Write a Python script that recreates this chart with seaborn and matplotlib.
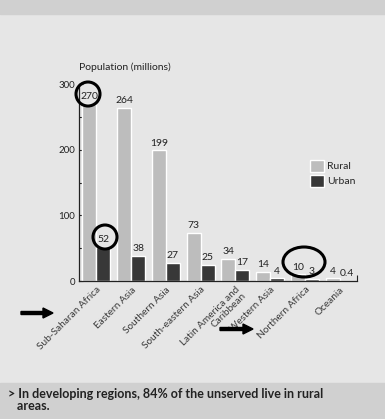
import matplotlib
matplotlib.use("Agg")
import matplotlib.pyplot as plt
from matplotlib.patches import Rectangle, Ellipse, FancyArrow
import seaborn as sns
import pandas as pd

regions = ["Sub-Saharan Africa", "Eastern Asia", "Southern Asia", "South-eastern Asia",
           "Latin America and\nCaribbean", "Western Asia", "Northern Africa", "Oceania"]
rural = [270, 264, 199, 73, 34, 14, 10, 4]
urban = [52, 38, 27, 25, 17, 4, 3, 0.4]
y_ticks = [0, 100, 200, 300]

df = pd.DataFrame({
    "region": regions * 2,
    "population": rural + urban,
    "area": ["Rural"] * len(regions) + ["Urban"] * len(regions),
})

sns.set_theme(style="white")
plt.rcParams["font.family"] = ["Lato", "DejaVu Sans"]

W, H = 385, 419
fig = plt.figure(figsize=(W / 100, H / 100), dpi=100)
fig.patch.set_facecolor("#e6e6e6")
# header and caption bands
fig.patches.append(Rectangle((0, 1 - 14 / H), 1, 14 / H, transform=fig.transFigure,
                             color="#d0d0d0", zorder=0))
fig.patches.append(Rectangle((0, 0), 1, 36 / H, transform=fig.transFigure,
                             color="#d0d0d0", zorder=0))

ax = fig.add_axes([79 / W, 1 - 281 / H, (357 - 79) / W, (281 - 84) / H])
ax.set_facecolor("none")

palette = {"Rural": "#bdbdbd", "Urban": "#383838"}
sns.barplot(data=df, x="region", y="population", hue="area", palette=palette,
            width=0.8, saturation=1, ax=ax, legend=True)

for cont, vals in zip(ax.containers, [rural, urban]):
    ax.bar_label(cont, labels=[f"{v:g}" for v in vals], padding=2,
                 fontsize=7.5, color="#222222")

ax.set_xlim(-0.5, len(regions) - 0.5)
ax.set_ylim(0, 300)
ax.set_yticks(y_ticks)
ax.set_yticks([50, 150, 250], minor=True)
ax.tick_params(axis="y", which="both", direction="in", length=3, width=0.8,
               labelsize=7, colors="#222222", left=True, pad=3)
ax.tick_params(axis="x", which="major", length=0, labelsize=7.2, pad=3,
               labelcolor="#3a3a3a")
ax.set_xticks([len(regions) - 0.5], minor=True)
ax.tick_params(axis="x", which="minor", direction="in", length=4, width=0.8,
               bottom=True, colors="#222222")
for lab in ax.get_xticklabels():
    lab.set_rotation(45)
    lab.set_ha("right")
    lab.set_va("top")
    lab.set_rotation_mode("anchor")
    lab.set_linespacing(0.9)

ax.set_xlabel("")
ax.set_ylabel("")
for s in ["top", "right"]:
    ax.spines[s].set_visible(False)
for s in ["left", "bottom"]:
    ax.spines[s].set_color("#222222")
    ax.spines[s].set_linewidth(0.9)

ax.text(0, 1.06, "Population (millions)", transform=ax.transAxes,
        fontsize=7.5, color="#222222", ha="left", va="bottom")

leg = ax.legend(loc="upper left", bbox_to_anchor=((306 - 79) / (357 - 79), (281 - 156) / (281 - 84)),
                frameon=False, fontsize=7.5, handlelength=1.3, handleheight=1.3,
                handletextpad=0.3, labelspacing=0.35, borderaxespad=0)

# highlight marks
def circle(xp, yp, wp, hp):
    fig.patches.append(Ellipse((xp / W, 1 - yp / H), wp / W, hp / H, transform=fig.transFigure,
                               fill=False, lw=2.2, ec="black", zorder=10))

circle(88, 94, 24, 24)
circle(105, 237, 24, 24)
circle(304, 262, 42, 30)

def arrow(x0, x1, yp):
    fig.patches.append(FancyArrow(x0 / W, 1 - yp / H, (x1 - x0) / W, 0,
                                  width=3 / H, head_width=10 / H, head_length=10 / W,
                                  length_includes_head=True, transform=fig.transFigure,
                                  color="black", zorder=10))

arrow(21, 53, 313)
arrow(220, 253, 329)

fig.text(8 / W, 1 - 400 / H,
         "> In developing regions, 84% of the unserved live in rural\n   areas.",
         fontsize=9, fontweight="bold", color="#222222", ha="left", va="center",
         linespacing=1.0)

fig.savefig("out.png", dpi=100, facecolor=fig.get_facecolor())
